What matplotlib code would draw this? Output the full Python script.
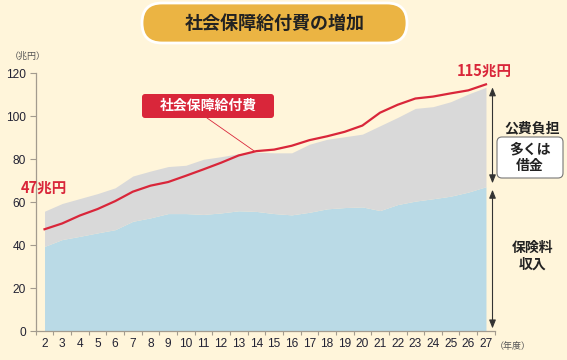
import numpy as np
import matplotlib
matplotlib.use("Agg")
import matplotlib.pyplot as plt
from matplotlib.patches import FancyBboxPatch
from matplotlib.transforms import IdentityTransform

plt.rcParams['font.family'] = ['Noto Sans CJK JP', 'DejaVu Sans']

# data (trillion yen, fiscal years Heisei 2-27)
years = list(range(2, 28))
benefit = [47.4, 50.1, 53.8, 56.8, 60.5, 64.9, 67.7, 69.4, 72.3, 75.3, 78.4, 81.8, 83.8,
           84.5, 86.3, 88.9, 90.7, 92.8, 95.7, 101.7, 105.4, 108.3, 109.2, 110.7, 112.1, 114.9]
premiums = [39.4, 42.6, 44.1, 45.7, 47.2, 51.1, 52.7, 54.7, 54.7, 54.3, 55.0, 56.0, 55.7,
            54.7, 54.1, 55.3, 56.9, 57.5, 57.8, 56.1, 58.9, 60.5, 61.6, 62.8, 64.7, 67.2]
total_revenue = [55.8, 59.4, 61.7, 64.0, 66.7, 72.2, 74.5, 76.6, 77.2, 80.0, 81.2, 82.6, 83.3,
                 83.0, 83.0, 87.0, 89.3, 90.5, 91.7, 95.6, 99.5, 103.7, 104.5, 106.8, 110.4, 113.5]
yticks = [0, 20, 40, 60, 80, 100, 120]

bg = '#FFF5DA'
red = '#D9263A'
blue = '#BADAE6'
grey = '#D9D9D9'
spine_c = '#A39B8E'
txt_c = '#222233'

W, H = 567, 360
fig = plt.figure(figsize=(W / 100, H / 100), dpi=100, facecolor=bg)
ax = fig.add_axes([35.7 / W, 1 - 331 / H, (494.8 - 35.7) / W, (331 - 73.4) / H])
ax.set_facecolor(bg)

ax.fill_between(years, 0, premiums, color=blue, lw=0)
ax.fill_between(years, premiums, total_revenue, color=grey, lw=0)
ax.plot(years, benefit, color=red, lw=1.6, zorder=3)

ax.set_xlim(1.5, 27.5)
ax.set_ylim(0, 120)
ax.set_yticks(yticks)
ax.set_xticks(years)
ax.set_xticks(np.arange(1.5, 28, 1), minor=True)
ax.tick_params(axis='x', which='major', length=0, pad=5, labelsize=8.6, labelcolor=txt_c)
ax.tick_params(axis='x', which='minor', length=3, color=spine_c, width=0.8)
ax.tick_params(axis='y', length=4, color=spine_c, width=0.8, pad=3, labelsize=8.6, labelcolor=txt_c)
for lab in ax.get_xticklabels() + ax.get_yticklabels():
    lab.set_family('Liberation Sans')
for s in ['top', 'right']:
    ax.spines[s].set_visible(False)
for s in ['left', 'bottom']:
    ax.spines[s].set_color(spine_c)
    ax.spines[s].set_linewidth(0.9)

# unit labels
fig.text(10 / W, 1 - 56 / H, '（兆円）', fontsize=6.5, color='#555555', va='center', ha='left')
fig.text(495 / W, 1 - 347 / H, '（年度）', fontsize=6.5, color='#555555', va='center', ha='left')

# value labels
fig.text(44 / W, 1 - 187.5 / H, '47兆円', fontsize=10.5, color=red, weight='bold', ha='center', va='center')
fig.text(484.5 / W, 1 - 70.5 / H, '115兆円', fontsize=10.5, color=red, weight='bold', ha='center', va='center')

ident = IdentityTransform()

# title pill
fig.patches.append(FancyBboxPatch((142, 317), 265, 40, boxstyle='round,pad=0,rounding_size=20',
                                  fc='#EBB443', ec='white', lw=2, transform=ident, figure=fig))
fig.text(274.5 / W, 1 - 23 / H, '社会保障給付費の増加', fontsize=13, weight='bold', color='#222222',
         ha='center', va='center')

# series label with leader line
fig.patches.append(FancyBboxPatch((142, 242), 132, 24, boxstyle='round,pad=0,rounding_size=3',
                                  fc=red, ec='none', transform=ident, figure=fig))
fig.text(208 / W, 1 - 106 / H, '社会保障給付費', fontsize=10, weight='bold', color='white',
         ha='center', va='center')
ax.annotate('', xy=(13.9, 83.7), xycoords='data', xytext=(207 / W, 1 - 118 / H),
            textcoords='figure fraction',
            arrowprops=dict(arrowstyle='-', color=red, lw=0.6, shrinkA=0, shrinkB=0))

# right-side brackets
x_arr = 27.37
ax.annotate('', xy=(x_arr, total_revenue[-1]), xytext=(x_arr, 68.8),
            arrowprops=dict(arrowstyle='<|-|>,head_length=0.5,head_width=0.2', color='#333333',
                            lw=0.8, shrinkA=0, shrinkB=0), annotation_clip=False)
ax.annotate('', xy=(x_arr, 65.8), xytext=(x_arr, 1.2),
            arrowprops=dict(arrowstyle='<|-|>,head_length=0.5,head_width=0.2', color='#333333',
                            lw=0.8, shrinkA=0, shrinkB=0), annotation_clip=False)

fig.text(532 / W, 1 - 128 / H, '公費負担', fontsize=10, weight='bold', color='#222222',
         ha='center', va='center')
fig.patches.append(FancyBboxPatch((497, 182), 66, 41, boxstyle='round,pad=0,rounding_size=5',
                                  fc='white', ec='#777777', lw=0.8, transform=ident, figure=fig))
fig.text(530 / W, 1 - 157.5 / H, '多くは\n借金', fontsize=10, weight='bold', color='#222222',
         ha='center', va='center', linespacing=1.2)
fig.text(533 / W, 1 - 256.5 / H, '保険料\n収入', fontsize=10, weight='bold', color='#222222',
         ha='center', va='center', linespacing=1.2)

fig.savefig('out.png', dpi=100, facecolor=bg)
